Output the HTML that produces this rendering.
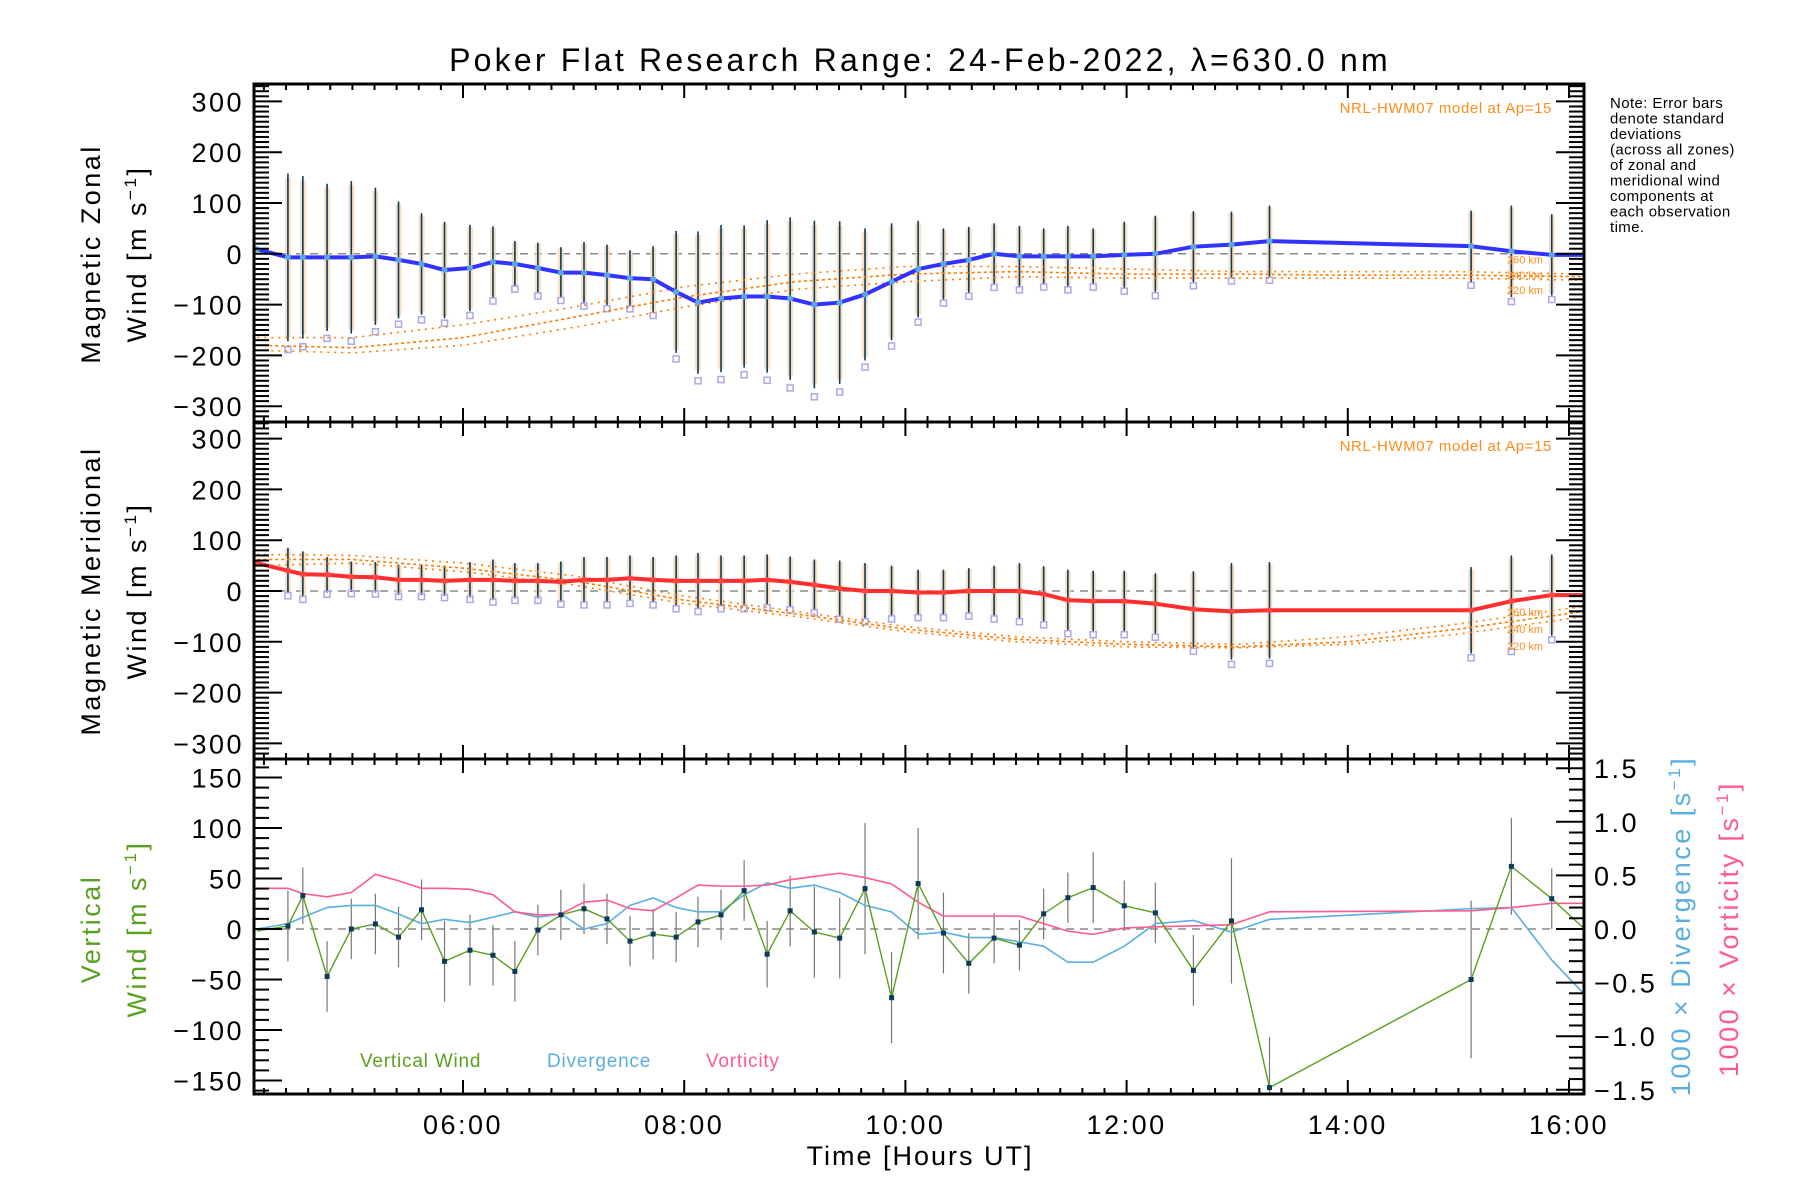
<!DOCTYPE html>
<html><head><meta charset="utf-8"><style>
html,body{margin:0;padding:0;background:#fff;}
svg{display:block;font-family:"Liberation Sans",sans-serif;}
</style></head><body>
<svg id="chart" width="1800" height="1200" viewBox="0 0 1800 1200" xmlns="http://www.w3.org/2000/svg"></svg>
<script>
const times=[4.135,4.417,4.552,4.771,4.99,5.208,5.417,5.625,5.833,6.063,6.271,6.469,6.677,6.885,7.094,7.302,7.51,7.719,7.927,8.125,8.333,8.542,8.75,8.958,9.177,9.406,9.635,9.875,10.115,10.344,10.573,10.802,11.031,11.25,11.469,11.698,11.979,12.26,12.604,12.948,13.292,15.115,15.479,15.844,16.14];
const zonal=[9,-7,-7,-7,-7,-5,-12,-20,-32,-28,-16,-20,-28,-37,-37,-42,-48,-50,-75,-96,-88,-84,-84,-88,-100,-96,-80,-55,-30,-20,-12,0,-5,-5,-5,-5,-2,0,14,18,25,15,5,-2,-2];
const zonalErr=[0,165,160,145,150,135,115,100,95,85,70,45,50,50,60,60,55,65,120,140,145,140,150,160,165,160,130,115,95,70,65,60,60,55,60,55,65,75,70,65,70,70,90,80,0];
const merid=[55,40,33,32,28,27,22,22,20,22,22,20,20,18,22,22,25,22,20,20,20,20,22,18,12,5,0,0,-3,-3,0,0,0,-6,-18,-20,-20,-25,-36,-40,-38,-38,-20,-8,-8];
const meridErr=[0,45,45,35,30,30,30,30,30,35,40,35,35,40,45,45,45,45,50,55,50,50,50,50,50,55,55,50,45,45,45,50,55,55,60,60,60,60,75,95,95,85,90,80,0];
const vert=[-2,3,33,-47,0,5,-8,19,-32,-21,-26,-42,-1,14,20,10,-12,-5,-8,7,14,38,-25,18,-3,-9,40,-68,45,-4,-34,-9,-16,15,31,41,23,16,-41,8,-157,-50,62,30,0];
const vertErr=[0,35,28,35,30,30,30,30,40,35,30,30,25,25,25,25,25,25,25,25,25,30,33,35,45,40,65,45,55,40,30,25,25,25,25,35,25,30,35,62,50,78,48,30,0];
const diverg=[0,0.05,0.11,0.2,0.22,0.22,0.14,0.05,0.09,0.06,0.11,0.16,0.11,0.14,0,0.05,0.22,0.29,0.2,0.16,0.16,0.32,0.43,0.38,0.41,0.34,0.22,0.16,-0.05,-0.03,-0.08,-0.08,-0.12,-0.16,-0.31,-0.31,-0.16,0.05,0.08,-0.03,0.09,0.19,0.2,-0.29,-0.61];
const vort=[0.38,0.38,0.33,0.3,0.34,0.51,0.45,0.38,0.38,0.37,0.32,0.16,0.13,0.14,0.25,0.27,0.19,0.17,0.29,0.41,0.4,0.4,0.41,0.46,0.49,0.52,0.48,0.42,0.25,0.12,0.12,0.12,0.12,0.05,-0.02,-0.05,0.01,0.02,0.03,0.04,0.16,0.17,0.2,0.24,0.24];
const modelTimes=[4.14,5,6,7,8,9,10,11,12,13,14,15,16.14];
const zonal260=[-165,-165,-140,-105,-65,-40,-25,-25,-30,-35,-35,-35,-40];
const zonal240=[-180,-185,-165,-125,-85,-55,-40,-35,-40,-40,-42,-42,-45];
const zonal220=[-190,-195,-180,-145,-105,-70,-55,-45,-48,-48,-48,-48,-52];
const merid260=[72,70,55,30,-10,-40,-70,-90,-100,-105,-90,-65,-30];
const merid240=[62,62,45,20,-18,-45,-75,-95,-105,-110,-100,-75,-40];
const merid220=[50,55,38,12,-25,-50,-80,-100,-110,-112,-105,-85,-50];
const xTicks=[6,8,10,12,14,16];
const xTickLabels=["06:00","08:00","10:00","12:00","14:00","16:00"];
const windTicks=[300,200,100,0,-100,-200,-300];
const vertTicks=[150,100,50,0,-50,-100,-150];
const rightTicks=[1.5,1.0,0.5,0.0,-0.5,-1.0,-1.5];

const NS="http://www.w3.org/2000/svg";
const svg=document.getElementById('chart');
const L=254,R=1584;
const P1={top:84,bot:422,zero:253.8,k:0.508};
const P2={top:422,bot:759,zero:591,k:0.508};
const P3={top:759,bot:1094,zero:929,k:1.01,kr:107.2};
function x(h){return 463+(h-6)*110.6;}
function y1(v){return P1.zero-v*P1.k;}
function y2(v){return P2.zero-v*P2.k;}
function y3(v){return P3.zero-v*P3.k;}
function y3r(v){return P3.zero-v*P3.kr;}
function el(tag,attrs,parent){const e=document.createElementNS(NS,tag);for(const k in attrs)e.setAttribute(k,attrs[k]);(parent||svg).appendChild(e);return e;}
function txt(s,attrs,parent){const e=el('text',attrs,parent);e.textContent=s;return e;}

const defs=el('defs',{});
[P1,P2,P3].forEach((p,i)=>{const c=el('clipPath',{id:'clip'+i},defs);el('rect',{x:L,y:p.top,width:R-L,height:p.bot-p.top},c);});

const title=txt('Poker Flat Research Range: 24-Feb-2022, \u03bb=630.0 nm',{x:920,y:71,'font-size':32,'letter-spacing':3.2,'text-anchor':'middle',fill:'#000'});



function windPanel(p,yf,vals,errs,lineColor,m260,m240,m220,name){
  const g=el('g',{'clip-path':'url(#clip'+(p===P1?0:1)+')'});
  
  
  el('line',{x1:L,x2:R,y1:yf(0),y2:yf(0),stroke:'#888','stroke-width':1.5,'stroke-dasharray':'8,6'},g);
  for(let i=0;i<times.length;i++){
    if(!errs[i])continue;
    const xx=x(times[i]);
    const band=el('rect',{x:xx-3,y:yf(vals[i]+errs[i]*0.95),width:6,height:(errs[i]*1.9)*p.k,fill:'#f6d8b8',opacity:0.8},g);
    
    
    const bar=el('line',{x1:xx,x2:xx,y1:yf(vals[i]+errs[i]),y2:yf(vals[i]-errs[i]),stroke:'#0b3a5a','stroke-width':1.6},g);
    
    
    const sq=el('rect',{x:xx-3,y:yf(vals[i]-errs[i]*1.1)-3,width:6,height:6,fill:'none',stroke:'#aaa8e8','stroke-width':1.5},g);
    
    
  }
  [[m260,'2,5'],[m240,'3,3'],[m220,'2,5']].forEach(([arr,da],j)=>{
    const d=arr.map((v,i)=>(i?'L':'M')+x(modelTimes[i])+','+yf(v)).join(' ');
    const pth=el('path',{d:d,fill:'none',stroke:'#ff7a00','stroke-width':1.6,'stroke-dasharray':da},g);
    
    
  });
  const d=vals.map((v,i)=>(i?'L':'M')+x(times[i])+','+yf(v)).join(' ');
  const ln=el('path',{d:d,fill:'none',stroke:lineColor,'stroke-width':4,'stroke-linejoin':'round'},g);
  
  
  for(let i=0;i<times.length;i++){
    const c=el('circle',{cx:x(times[i]),cy:yf(vals[i]),r:3,fill:lineColor==='#3333ff'?'#5aa8e0':'#ff4444'},g);
    
    
  }
  const ml=txt('NRL-HWM07 model at Ap=15',{x:1552,y:p.top+29,'font-size':15,'letter-spacing':0.6,'text-anchor':'end',fill:'#ff8c1a'});
  
  
  ['260 km','240 km','220 km'].forEach((s,j)=>{
    const arr=[m260,m240,m220][j];
    const t=txt(s,{x:1507,y:yf(arr[arr.length-2])+(j-1)*12+4,'font-size':11,fill:'#ff8c1a'});
    
    
  });
}
windPanel(P1,y1,zonal,zonalErr,'#3333ff',zonal260,zonal240,zonal220,'zonal');
windPanel(P2,y2,merid,meridErr,'#ff2d2d',merid260,merid240,merid220,'meridional');

(function(){
  const g=el('g',{'clip-path':'url(#clip2)'});
  
  
  el('line',{x1:L,x2:R,y1:y3(0),y2:y3(0),stroke:'#888','stroke-width':1.5,'stroke-dasharray':'8,6'},g);
  for(let i=0;i<times.length;i++){
    if(!vertErr[i])continue;
    const b=el('line',{x1:x(times[i]),x2:x(times[i]),y1:y3(vert[i]+vertErr[i]),y2:y3(vert[i]-vertErr[i]),stroke:'#777','stroke-width':1.2},g);
    
    
  }
  const dv=diverg.map((v,i)=>(i?'L':'M')+x(times[i])+','+y3r(v)).join(' ');
  const p1=el('path',{d:dv,fill:'none',stroke:'#5aaee0','stroke-width':1.6},g);
  
  
  const vo=vort.map((v,i)=>(i?'L':'M')+x(times[i])+','+y3r(v)).join(' ');
  const p2=el('path',{d:vo,fill:'none',stroke:'#ff5a8c','stroke-width':1.6},g);
  
  
  const vw=vert.map((v,i)=>(i?'L':'M')+x(times[i])+','+y3(v)).join(' ');
  const p3=el('path',{d:vw,fill:'none',stroke:'#5aa020','stroke-width':1.4},g);
  
  
  for(let i=1;i<times.length-1;i++){
    const r=el('rect',{x:x(times[i])-2.5,y:y3(vert[i])-2.5,width:5,height:5,fill:'#0b3a5a'},g);
    
    
  }
  [['Vertical Wind',360,'#5aa020'],['Divergence',547,'#5aaee0'],['Vorticity',706,'#ff5a8c']].forEach(([s,xx,c])=>{
    const t=txt(s,{x:xx,y:1067,'font-size':19,'letter-spacing':0.8,fill:c});
    
    
  });
})();

function frame(p,ticks,yf,minorStep,minorRange,rightAxis){
  const fr=el('rect',{x:L,y:p.top,width:R-L,height:p.bot-p.top,fill:'none',stroke:'#000','stroke-width':3});
  
  
  for(let v=minorRange[0];v<=minorRange[1]+1e-9;v+=minorStep){
    const yy=yf(v);if(yy<p.top||yy>p.bot)continue;
    const major=Math.abs(ticks.reduce((a,t)=>Math.min(a,Math.abs(t-v)),1e9))<1e-6;
    const len=major?28:15;
    el('line',{x1:L,x2:L+len,y1:yy,y2:yy,stroke:'#000','stroke-width':2});
    if(!rightAxis)el('line',{x1:R,x2:R-len,y1:yy,y2:yy,stroke:'#000','stroke-width':2});
  }
  ticks.forEach(t=>{
    const lab=txt((t<0?'\u2212':'')+Math.abs(t),{x:L-10,y:yf(t)+10,'font-size':27,'letter-spacing':2.5,'text-anchor':'end',fill:'#000'});
    
    
  });
  for(let h=4.2;h<=16.14;h+=0.2){
    const xx=x(h);if(xx<L)continue;
    const major=Math.abs(h-Math.round(h))<1e-6&&Math.round(h)%2===0;
    const len=major?14:6;
    el('line',{x1:xx,x2:xx,y1:p.bot,y2:p.bot-len,stroke:'#000','stroke-width':2});
    el('line',{x1:xx,x2:xx,y1:p.top,y2:p.top+len,stroke:'#000','stroke-width':2});
  }
}
frame(P1,windTicks,y1,10,[-330,330],false);
frame(P2,windTicks,y2,10,[-330,330],false);
frame(P3,vertTicks,y3,10,[-160,160],true);
for(let v=-15;v<=15;v++){
  const val=v/10;const yy=y3r(val);
  if(yy<P3.top||yy>P3.bot)continue;
  const len=(v%5===0)?28:15;
  el('line',{x1:R,x2:R-len,y1:yy,y2:yy,stroke:'#000','stroke-width':2});
}
rightTicks.forEach(t=>{
  const lab=txt((t<0?'\u2212':'')+Math.abs(t).toFixed(1),{x:R+10,y:y3r(t)+10,'font-size':27,'letter-spacing':2.5,fill:'#000'});
  
  
});
xTicks.forEach((h,i)=>{
  const lab=txt(xTickLabels[i],{x:x(h),y:1134,'font-size':27,'letter-spacing':2.5,'text-anchor':'middle',fill:'#000'});
  
  
});
const xt=txt('Time [Hours UT]',{x:920,y:1165,'font-size':27,'letter-spacing':2,'text-anchor':'middle',fill:'#000'});



function vlabel(lines,cx,cy,colors,name){
  lines.forEach((s,i)=>{
    const xx=cx+i*46;
    const t=el('text',{x:xx,y:cy,'font-size':27,'letter-spacing':2.5,'text-anchor':'middle',fill:colors[i],transform:'rotate(-90 '+xx+' '+cy+')'});
    t.innerHTML=s;
    
    
  });
}
const sup='[m s<tspan dy="-10" font-size="17">\u22121</tspan><tspan dy="10">]</tspan>';
vlabel(['Magnetic Zonal','Wind '+sup],100,254,['#000','#000'],'zonal-y-axis-title');
vlabel(['Magnetic Meridional','Wind '+sup],100,591,['#000','#000'],'meridional-y-axis-title');
vlabel(['Vertical','Wind '+sup],100,929,['#5aa020','#5aa020'],'vertical-y-axis-title');
const sup2='[s<tspan dy="-10" font-size="17">\u22121</tspan><tspan dy="10">]</tspan>';
vlabel(['1000 \u00d7 Divergence '+sup2],1690,926,['#5aaee0'],'divergence-axis-title');
vlabel(['1000 \u00d7 Vorticity '+sup2],1738,929,['#ff5a8c'],'vorticity-axis-title');

['Note: Error bars','denote standard','deviations','(across all zones)','of zonal and','meridional wind','components at','each observation','time.'].forEach((s,i)=>{
  const t=txt(s,{x:1610,y:108+i*15.5,'font-size':15,'letter-spacing':0.4,fill:'#000'});
  
  
});
</script>
</body></html>
